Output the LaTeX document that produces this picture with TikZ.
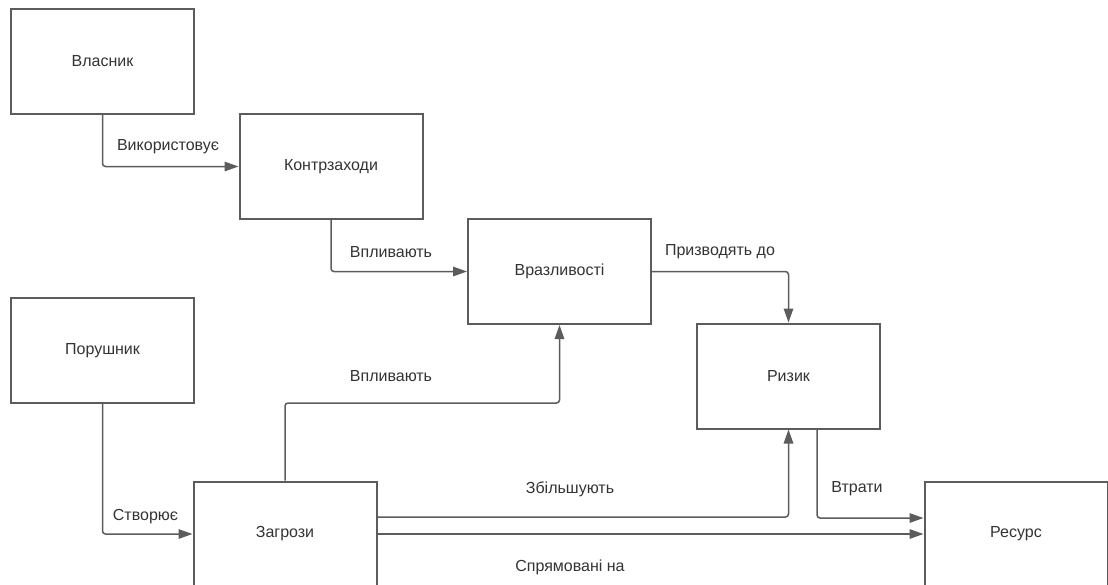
\documentclass[tikz,border=0pt]{standalone}
\usepackage{fontspec}
\setmainfont{Liberation Sans}
\usepackage{tikz}
\usetikzlibrary{%
	calc,%
	arrows.meta,%
	positioning
}
\definecolor{edgegray}{HTML}{5C5C5C}
\definecolor{textgray}{HTML}{333333}
\tikzset{
	block/.style={draw=edgegray, line width=2pt, minimum width=183pt, minimum height=105pt,
		inner sep=0pt, text=textgray, font=\fontsize{16}{19}\selectfont},
	link/.style={draw=edgegray, line width=1.5pt, rounded corners=3pt,
		-{Triangle[length=14pt,width=9.5pt]}},
	tag/.style={text=textgray, font=\fontsize{16}{19}\selectfont, inner sep=0pt}
}

\begin{document}
\begin{tikzpicture}[x=1pt,y=-1pt]
		\useasboundingbox (0,0) rectangle (1108,584);
		
		% Blocks
		\node[block] (owner) at (102.5,61.5) {Власник};
		\node[block] (counter) at (331,166.5) {Контрзаходи};
		\node[block] (vuln) at (559.5,271.5) {Вразливості};
		\node[block] (intruder) at (102.5,350.5) {Порушник};
		\node[block] (risk) at (788.5,376) {Ризик};
		\node[block] (threat) at (285,534) {Загрози};
		\node[block] (asset) at (1016,534) {Ресурс};
		
		% Links
		\draw[link] (owner.south) |- (counter.west);
		\draw[link] (counter.south) |- (vuln.west);
		\draw[link] (vuln.east) -| (risk.north);
		\draw[link] (intruder.south) |- (threat.west);
		\coordinate (bend) at (285,403);
		\draw[link] (threat.north) -- (bend) -| (vuln.south);
		\draw[link] ([yshift=17pt]threat.east) -| (risk.south);
		\draw[link] (threat.east) -- (asset.west);
		\draw[link] ([xshift=28.5pt]risk.south) |- ([yshift=16pt]asset.west);
		
		% Link labels
		\node[tag] (usesTag) at (168,147) {Використовує};
		\node[tag] (affectTagA) at (391,252) {Впливають};
		\node[tag] (leadTag) at (720,252) {Призводять до};
		\node[tag] (createTag) at (145.5,517) {Створює};
		\node[tag] (affectTagB) at (391,376) {Впливають};
		\node[tag] (raiseTag) at (570,489) {Збільшують};
		\node[tag] (lossTag) at (857,489) {Втрати};
		\node[tag] (aimTag) at (570,567) {Спрямовані на};
	\end{tikzpicture}
\end{document}
